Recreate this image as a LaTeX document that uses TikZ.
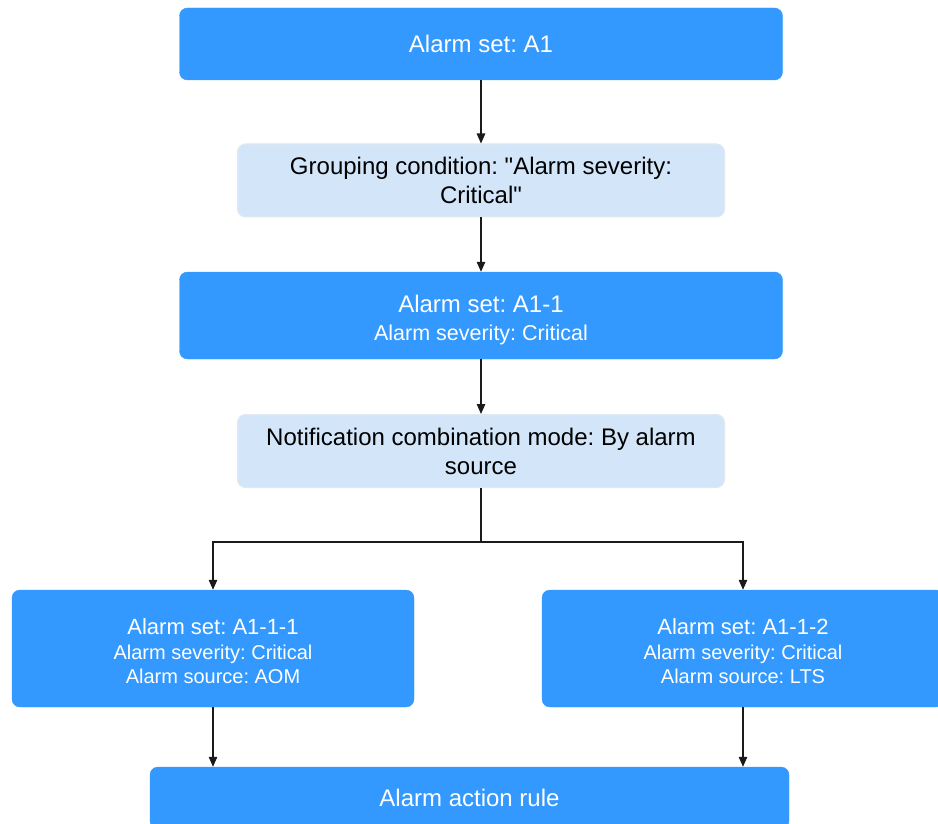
\documentclass[tikz,border=0pt]{standalone}
\usepackage{fontspec}
\setmainfont{Liberation Sans}[Ligatures=TeXOff]
\usetikzlibrary{arrows.meta}
\definecolor{darkbox}{HTML}{3399FF}
\definecolor{lightbox}{HTML}{D3E6F9}
\definecolor{lightedge}{HTML}{E2E8EF}
\definecolor{linecol}{HTML}{1A1A1A}
\frenchspacing
\tikzset{
  bluebox/.style={draw=darkbox, fill=darkbox, rounded corners=8pt, text=white, align=center, inner sep=0pt},
  palebox/.style={draw=lightedge, line width=1pt, fill=lightbox, rounded corners=8pt, text=black, align=center, inner sep=0pt},
  conn/.style={draw=linecol, line width=1.2pt, -{Triangle[length=10pt,width=8.5pt]}},
  plain/.style={draw=linecol, line width=1.2pt},
  bigfont/.style={font=\fontsize{24}{29}\selectfont\frenchspacing},
  twofont/.style={font=\fontsize{24}{28}\selectfont\frenchspacing},
  smallfont/.style={font=\fontsize{20}{24.5}\selectfont\frenchspacing},
}
\newcommand{\midtxt}{\fontsize{21.5}{28}\selectfont}
\newcommand{\boxmain}{\fontsize{22}{25}\selectfont}
\begin{document}
\begin{tikzpicture}[x=1pt,y=-1pt]
\useasboundingbox (0,0) rectangle (938,824);
\node[bluebox, bigfont, minimum width=603pt, minimum height=72pt] (top) at (481,44) {Alarm set: A1};
\node[palebox, bigfont, minimum width=487pt, minimum height=73pt] (g1) at (481,180.5) {Grouping condition: "Alarm severity:\\Critical"};
\node[bluebox, twofont, minimum width=603pt, minimum height=87pt] (a11) at (481,315.5) {\rule{0pt}{26pt}Alarm set: A1-1\\\midtxt Alarm severity: Critical};
\node[palebox, bigfont, minimum width=487pt, minimum height=73pt] (nm) at (481,451) {Notification combination mode: By alarm\\source};
\node[bluebox, smallfont, minimum width=402pt, minimum height=117pt] (l) at (213,648.5) {\rule{0pt}{22pt}\boxmain Alarm set: A1-1-1\\Alarm severity: Critical\\Alarm source: AOM};
\node[bluebox, smallfont, minimum width=402pt, minimum height=117pt] (r) at (743,648.5) {\rule{0pt}{22pt}\boxmain Alarm set: A1-1-2\\Alarm severity: Critical\\Alarm source: LTS};
\node[bluebox, bigfont, minimum width=639pt, minimum height=62pt] (act) at (469.5,798) {Alarm action rule};
\coordinate (split) at (481,542);
\draw[conn] (top) -- (g1);
\draw[conn] (g1) -- (a11);
\draw[conn] (a11) -- (nm);
\draw[plain] (nm.south) -- (split);
\draw[conn] (split) -| (l.north);
\draw[conn] (split) -| (r.north);
\draw[conn] (l.south) -- (l.south |- act.north);
\draw[conn] (r.south) -- (r.south |- act.north);
\end{tikzpicture}
\end{document}
